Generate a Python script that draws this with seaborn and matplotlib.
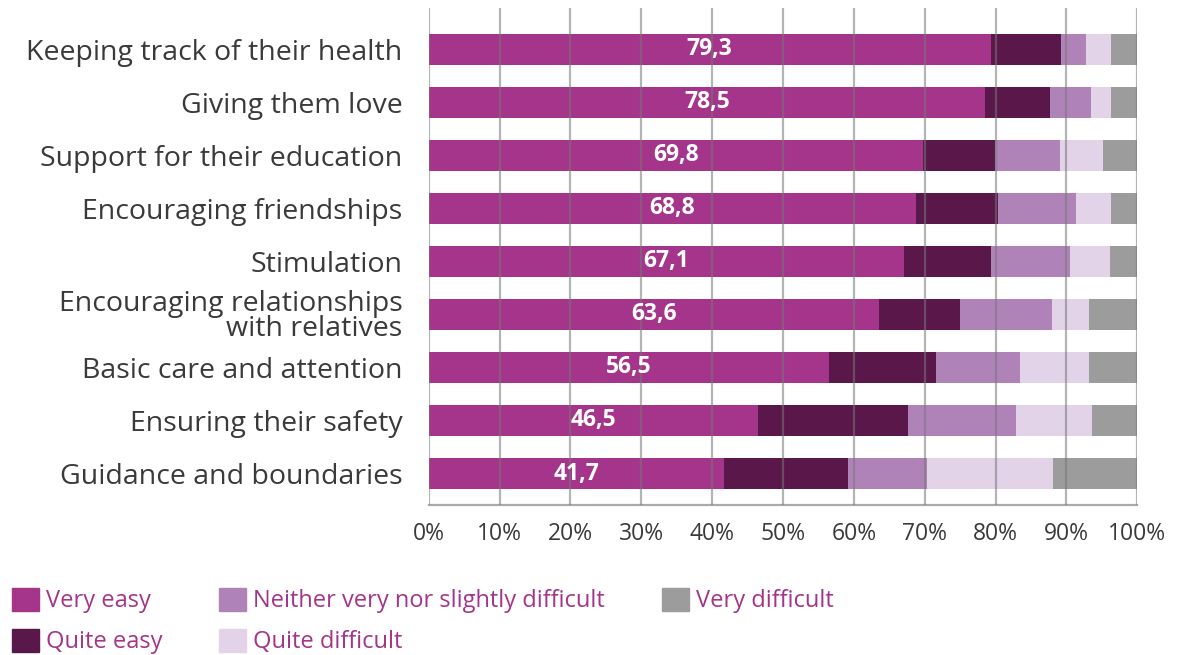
import matplotlib
matplotlib.use("Agg")
import matplotlib.pyplot as plt
import matplotlib.patches as mpatches
import seaborn as sns
import numpy as np
import pandas as pd

categories = [
    "Keeping track of their health",
    "Giving them love",
    "Support for their education",
    "Encouraging friendships",
    "Stimulation",
    "Encouraging relationships\nwith relatives",
    "Basic care and attention",
    "Ensuring their safety",
    "Guidance and boundaries",
]
very_easy = [79.3, 78.5, 69.8, 68.8, 67.1, 63.6, 56.5, 46.5, 41.7]
quite_easy = [10.0, 9.2, 10.1, 11.6, 12.3, 11.4, 15.1, 21.2, 17.5]
neither = [3.5, 5.7, 9.2, 11.0, 11.1, 12.9, 11.9, 15.2, 11.1]
quite_difficult = [3.5, 2.9, 6.1, 4.9, 5.7, 5.3, 9.7, 10.7, 17.8]
very_difficult = [3.7, 3.7, 4.8, 3.7, 3.8, 6.8, 6.8, 6.4, 11.9]

series = ["Very easy", "Quite easy", "Neither very nor slightly difficult",
          "Quite difficult", "Very difficult"]
colors = ["#a4358a", "#5a184a", "#b083b8", "#e2d3e8", "#9c9c9c"]
text_col = "#3a3a3a"

sns.set_style("white")
plt.rcParams["font.family"] = ["Open Sans", "DejaVu Sans"]

df = pd.DataFrame({
    "category": categories,
    series[0]: very_easy,
    series[1]: quite_easy,
    series[2]: neither,
    series[3]: quite_difficult,
    series[4]: very_difficult,
})
cum = df[series].cumsum(axis=1)

fig = plt.figure(figsize=(11.81, 6.55), dpi=100)
ax = fig.add_axes([0.363, 0.229, 0.6, 0.7588])

# stacked bars: draw cumulative totals from the outside in
for name, col in reversed(list(zip(series, colors))):
    sns.barplot(x=cum[name], y=df["category"], orient="h", color=col,
                width=0.585, saturation=1, ax=ax, linewidth=0)

for i, v in enumerate(very_easy):
    ax.text(v / 2, i, f"{v:.1f}".replace(".", ","), ha="center", va="center",
            color="white", fontsize=16.5, fontweight="bold")

ax.set_xlim(0, 100)
ax.set_ylim(8.594, -0.78)
ax.set_xticks(np.arange(0, 101, 10))
ax.set_xticklabels([f"{t}%" for t in range(0, 101, 10)])
ax.set_xlabel("")
ax.set_ylabel("")
ax.set_axisbelow(False)
ax.grid(axis="x", color="#777777", alpha=0.55, linewidth=1.6)
ax.grid(axis="y", visible=False)
for s in ["top", "right", "left"]:
    ax.spines[s].set_visible(False)
ax.spines["bottom"].set_color("#aaaaaa")
ax.spines["bottom"].set_linewidth(1.6)
ax.tick_params(axis="x", length=0, labelsize=16.5, colors=text_col, pad=12)
ax.tick_params(axis="y", length=0, labelsize=20.5, colors=text_col, pad=19)
for lbl in ax.get_yticklabels():
    lbl.set_linespacing(0.88)

handles = [mpatches.Patch(color=c, label=s) for s, c in zip(series, colors)]
leg = fig.legend(handles=handles, loc="upper left", bbox_to_anchor=(-0.004, 0.128),
                 ncol=3, frameon=False, fontsize=17, handlelength=1.15,
                 handleheight=1.15, handletextpad=0.3, columnspacing=2.4,
                 labelspacing=0.65, borderaxespad=0.3)
for t in leg.get_texts():
    t.set_color("#a4358a")

fig.savefig("out.png", dpi=100)
